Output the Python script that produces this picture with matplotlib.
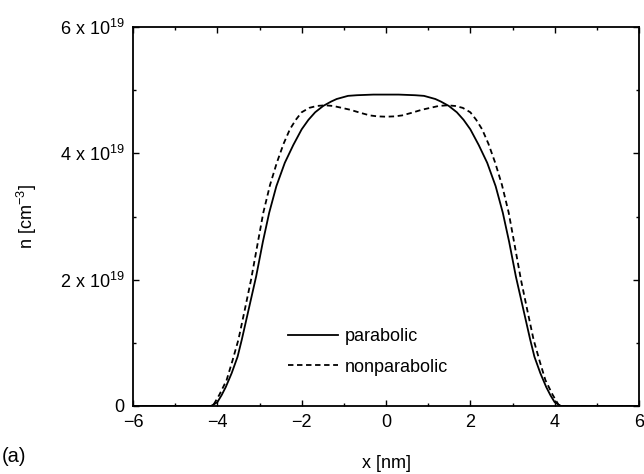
import matplotlib
matplotlib.use("Agg")
import matplotlib.pyplot as plt
import numpy as np
from matplotlib.ticker import MultipleLocator, FixedLocator

plt.rcParams['font.family'] = ['Liberation Sans', 'DejaVu Sans']
plt.rcParams['mathtext.fontset'] = 'custom'
plt.rcParams['mathtext.rm'] = 'Liberation Sans'

# electron density, n in units of 1e19 cm^-3
x_par = [-6.0, -4.5, -4.15, -4.0, -3.9, -3.8, -3.66, -3.52, -3.42, -3.25, -3.08,
         -2.92, -2.77, -2.6, -2.4, -2.2, -2.0, -1.84, -1.68, -1.49,
         -1.3, -1.17, -0.9, -0.69, -0.3, 0.0,
         0.3, 0.69, 0.9, 1.17, 1.3, 1.49, 1.68, 1.84, 2.0, 2.2, 2.4, 2.6,
         2.77, 2.92, 3.08, 3.25, 3.42, 3.52, 3.66, 3.8, 3.9, 4.0, 4.15,
         4.5, 6.0]
n_par = [0, 0, 0, 0.06, 0.17, 0.3, 0.52, 0.78, 1.05, 1.55, 2.05,
         2.6, 3.06, 3.48, 3.85, 4.13, 4.38, 4.53, 4.65, 4.75,
         4.82, 4.86, 4.91, 4.92, 4.93, 4.93,
         4.93, 4.92, 4.91, 4.86, 4.82, 4.75, 4.65, 4.53, 4.38, 4.13, 3.85, 3.48,
         3.06, 2.6, 2.05, 1.55, 1.05, 0.78, 0.52, 0.3, 0.17, 0.06, 0,
         0, 0]

x_nonpar = [-6.0, -4.5, -4.15, -4.09, -3.95, -3.78, -3.64, -3.5, -3.35, -3.2,
            -3.05, -2.91, -2.75, -2.59, -2.43, -2.28, -2.14, -2.0, -1.82, -1.64,
            -1.45, -1.25, -1.05, -0.85, -0.6, -0.38, -0.2, 0.0,
            0.2, 0.38, 0.6, 0.85, 1.05, 1.25, 1.45, 1.64, 1.82, 2.0, 2.14, 2.28,
            2.43, 2.59, 2.75, 2.91, 3.05, 3.2, 3.35, 3.5, 3.64, 3.78, 3.95,
            4.09, 4.15, 4.5, 6.0]
n_nonpar = [0, 0, 0, 0.02, 0.18, 0.41, 0.72, 1.05, 1.52, 2.0,
            2.55, 3.06, 3.5, 3.85, 4.15, 4.38, 4.53, 4.65, 4.72, 4.75,
            4.76, 4.75, 4.72, 4.69, 4.64, 4.6, 4.585, 4.58,
            4.585, 4.6, 4.64, 4.69, 4.72, 4.75, 4.76, 4.75, 4.72, 4.65, 4.53, 4.38,
            4.15, 3.85, 3.5, 3.06, 2.55, 2.0, 1.52, 1.05, 0.72, 0.41, 0.18,
            0.02, 0, 0, 0]

x_ticks = [-6, -4, -2, 0, 2, 4, 6]
x_ticklabels = ['\u22126', '\u22124', '\u22122', '0', '2', '4', '6']
y_ticks = [0, 2e19, 4e19, 6e19]
y_ticklabels = ['0', r'2 x 10$^{19}$', r'4 x 10$^{19}$', r'6 x 10$^{19}$']

fig = plt.figure(figsize=(6.44, 4.74), dpi=100)
ax = fig.add_axes([133/644, 1 - 406/474, 506/644, 379/474])

ax.plot(x_par, np.array(n_par) * 1e19, color='black', lw=1.3, label='parabolic')
ax.plot(x_nonpar, np.array(n_nonpar) * 1e19, color='black', lw=1.3,
        dashes=(3.0, 2.0), label='nonparabolic')

ax.set_xlim(-6, 6)
ax.set_ylim(0, 6e19)
ax.xaxis.set_major_locator(FixedLocator(x_ticks))
ax.xaxis.set_minor_locator(MultipleLocator(1))
ax.yaxis.set_major_locator(FixedLocator(y_ticks))
ax.yaxis.set_minor_locator(MultipleLocator(1e19))
ax.set_xticklabels(x_ticklabels)
ax.set_yticklabels(y_ticklabels)
ax.tick_params(which='both', direction='in', top=True, right=True,
               labelsize=13, width=1.0)
ax.tick_params(which='major', length=4, pad=6)
ax.tick_params(which='minor', length=2.5)
for s in ax.spines.values():
    s.set_linewidth(1.3)

ax.set_xlabel('x [nm]', fontsize=13, labelpad=17)
ax.set_ylabel(r'n [cm$^{-3}$]', fontsize=13, labelpad=15)

ax.legend(loc='center', bbox_to_anchor=(0.464, 0.1425), frameon=False,
          fontsize=13, handlelength=2.8, handletextpad=0.35, labelspacing=0.75)

fig.text(0.002, 1 - 456/474, '(a)', fontsize=14.5, va='center', ha='left')

fig.savefig('out.png', dpi=100)
